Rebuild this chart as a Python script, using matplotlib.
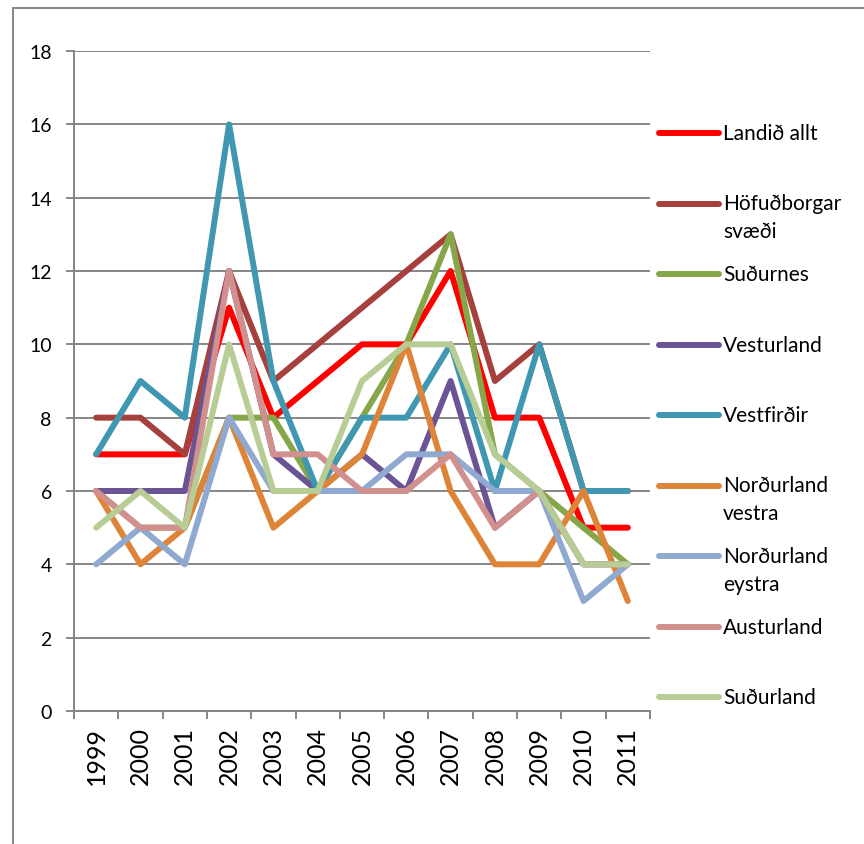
import matplotlib
matplotlib.use('Agg')
import matplotlib.pyplot as plt
from matplotlib.lines import Line2D
from matplotlib.patches import Rectangle

plt.rcParams['font.family'] = ['Lato', 'DejaVu Sans']

# data
years = ['1999', '2000', '2001', '2002', '2003', '2004', '2005',
         '2006', '2007', '2008', '2009', '2010', '2011']

landid_allt = [7, 7, 7, 11, 8, 9, 10, 10, 12, 8, 8, 5, 5]
hofudborgarsvaedi = [8, 8, 7, 12, 9, 10, 11, 12, 13, 9, 10, 6, 6]
sudurnes = [6, 5, 5, 8, 8, 6, 8, 10, 13, 7, 6, 5, 4]
vesturland = [6, 6, 6, 12, 7, 6, 7, 6, 9, 5, 6, 4, 4]
vestfirdir = [7, 9, 8, 16, 9, 6, 8, 8, 10, 6, 10, 6, 6]
nordurland_vestra = [6, 4, 5, 8, 5, 6, 7, 10, 6, 4, 4, 6, 3]
nordurland_eystra = [4, 5, 4, 8, 6, 6, 6, 7, 7, 6, 6, 3, 4]
austurland = [6, 5, 5, 12, 7, 7, 6, 6, 7, 5, 6, 4, 4]
sudurland = [5, 6, 5, 10, 6, 6, 9, 10, 10, 7, 6, 4, 4]

labels = ['Landið allt', 'Höfuðborgar\nsvæði', 'Suðurnes', 'Vesturland',
          'Vestfirðir', 'Norðurland\nvestra', 'Norðurland\neystra',
          'Austurland', 'Suðurland']
colors = ['#FF0000', '#A5403D', '#86A64A', '#6B5493', '#3F97B1',
          '#DD8438', '#8FA9D1', '#D18F8E', '#B7CD95']
series = [landid_allt, hofudborgarsvaedi, sudurnes, vesturland, vestfirdir,
          nordurland_vestra, nordurland_eystra, austurland, sudurland]

W, H = 864, 845
grid_col = '#868686'
lw = 4.3

fig = plt.figure(figsize=(W / 100, H / 100), dpi=100)
ax = fig.add_axes([74 / W, (H - 712) / H, (650 - 74) / W, (712 - 52) / H])

x = list(range(len(years)))
for vals, col in zip(series, colors):
    ax.plot(x, vals, color=col, lw=lw, solid_joinstyle='round',
            solid_capstyle='round', zorder=3)

ax.set_xlim(-0.5, len(years) - 0.5)
ax.set_ylim(0, 18)
ax.set_yticks(range(0, 19, 2))
ax.yaxis.grid(True, color=grid_col, lw=1.4)
ax.set_axisbelow(True)

for s in ['top', 'right']:
    ax.spines[s].set_visible(False)
for s in ['left', 'bottom']:
    ax.spines[s].set_color(grid_col)
    ax.spines[s].set_linewidth(1.4)

ax.set_xticks(x)
ax.set_xticklabels(years, rotation=90)
ax.set_xticks([i - 0.5 for i in range(len(years) + 1)], minor=True)
ax.tick_params(axis='x', which='major', length=0, pad=11, labelsize=18)
ax.tick_params(axis='x', which='minor', length=6, width=1.4, color=grid_col)
ax.tick_params(axis='y', length=6, width=1.4, color=grid_col, pad=10,
               labelsize=14)

# outer chart border (runs off the right and bottom edges)
fig.add_artist(Rectangle((13 / W, -0.5), 2, (H - 9) / H + 0.5,
                         transform=fig.transFigure, fill=False,
                         edgecolor=grid_col, lw=1.4))

# legend, laid out like the Excel one
for i, (lab, col) in enumerate(zip(labels, colors)):
    yp = 134 + 70.5 * i
    yf = 1 - yp / H
    fig.add_artist(Line2D([659 / W, 719 / W], [yf, yf], color=col, lw=lw,
                          solid_capstyle='round', transform=fig.transFigure))
    for j, part in enumerate(lab.split('\n')):
        fig.text(723 / W, 1 - (yp + 28 * j) / H, part, fontsize=15,
                 va='center', ha='left')

fig.savefig('out.png', dpi=100)
